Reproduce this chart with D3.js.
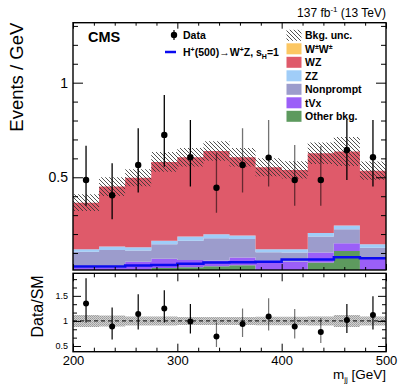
<!DOCTYPE html>
<html>
<head>
<meta charset="utf-8">
<script src="https://cdn.jsdelivr.net/npm/d3@7"></script>
<style>
  body { margin: 0; background: #fff; }
  svg { display: block; font-family: "Liberation Sans", Arial, Helvetica, sans-serif; }
</style>
</head>
<body>
<svg id="chart" width="407" height="387"></svg>
<script>
// bins (low edges, GeV) and the last upper edge
var binLow = [200, 225, 250, 275, 300, 325, 350, 375, 400, 425, 450, 475];
var binHigh = 500;

// background contributions, events / GeV (stacked bottom to top)
var otherBkg  = [0.004, 0.004, 0.006, 0.020, 0.025, 0.030, 0.035, 0.006, 0.006, 0.049, 0.110, 0.010];
var tVx       = [0.016, 0.018, 0.048, 0.050, 0.038, 0.030, 0.041, 0.054, 0.049, 0.053, 0.042, 0.062];
var nonprompt = [0.087, 0.094, 0.059, 0.076, 0.102, 0.118, 0.098, 0.044, 0.047, 0.085, 0.074, 0.056];
var zz        = [0.013, 0.018, 0.017, 0.019, 0.022, 0.021, 0.018, 0.016, 0.018, 0.019, 0.019, 0.018];
var wz        = [0.246, 0.317, 0.368, 0.416, 0.419, 0.440, 0.414, 0.433, 0.419, 0.421, 0.391, 0.389];
var wpwp      = [0, 0, 0, 0, 0, 0, 0, 0, 0, 0, 0, 0];
// relative background uncertainty
var bkgUnc    = [0.12, 0.11, 0.09, 0.09, 0.08, 0.08, 0.08, 0.085, 0.085, 0.09, 0.12, 0.09];

// signal H+(500)
var signal    = [0.028, 0.028, 0.034, 0.037, 0.043, 0.049, 0.051, 0.054, 0.066, 0.066, 0.077, 0.072];

// data
var dataVal   = [0.486, 0.405, 0.565, 0.724, 0.606, 0.445, 0.565, 0.604, 0.486, 0.486, 0.644, 0.606];
var dataUp    = [0.667, 0.574, 0.759, 0.935, 0.803, 0.627, 0.759, 0.803, 0.671, 0.666, 0.803, 0.803];
var dataDown  = [0.349, 0.278, 0.419, 0.556, 0.451, 0.313, 0.419, 0.451, 0.349, 0.349, 0.486, 0.451];

// data / SM
var ratioVal  = [1.35, 0.89, 1.14, 1.25, 0.99, 0.69, 0.94, 1.09, 0.89, 0.78, 1.02, 1.12];
var ratioUp   = [1.85, 1.27, 1.53, 1.61, 1.34, 0.97, 1.25, 1.45, 1.24, 1.06, 1.34, 1.49];
var ratioDown = [0.97, 0.63, 0.83, 0.97, 0.75, 0.48, 0.68, 0.81, 0.65, 0.56, 0.76, 0.83];

// ticks
var xMajor = [200, 300, 400, 500];
var yMajor = [0.5, 1];
var rMajor = [0.5, 1, 1.5];

var keys = ["other", "tvx", "nonprompt", "zz", "wz", "wpwp"];
var colors = {
  wpwp: "#fcc763", wz: "#df5a6a", zz: "#a0cdf8",
  nonprompt: "#9c9ccc", tvx: "#9b5ff8", other: "#5d9a5e"
};

var L = 73, R = 386, T = 22.7, B = 270, T2 = 273.3, B2 = 351.7;

var svg = d3.select("#chart");
var defs = svg.append("defs");

var hatch = defs.append("pattern").attr("id", "hatch")
  .attr("patternUnits", "userSpaceOnUse").attr("width", 4).attr("height", 4);
hatch.append("path").attr("d", "M-1,-1L5,5M-1,3L1,5M3,-1L5,1")
  .attr("stroke", "#333").attr("stroke-width", 0.85);

var dots = defs.append("pattern").attr("id", "dots")
  .attr("patternUnits", "userSpaceOnUse").attr("width", 2).attr("height", 2);
dots.append("rect").attr("width", 2).attr("height", 2).attr("fill", "#d2d2d2");
dots.append("rect").attr("width", 1).attr("height", 1).attr("fill", "#9a9a9a");
dots.append("rect").attr("x", 1).attr("y", 1).attr("width", 1).attr("height", 1).attr("fill", "#a8a8a8");

defs.append("clipPath").attr("id", "clipTop").append("rect")
  .attr("x", L).attr("y", T).attr("width", R - L).attr("height", B - T);
defs.append("clipPath").attr("id", "clipBot").append("rect")
  .attr("x", L).attr("y", T2).attr("width", R - L).attr("height", B2 - T2);

var x = d3.scaleLinear().domain([200, 500]).range([L, R]);
var y = d3.scaleLinear().domain([0.01, 1.317]).range([B, T]);
var yr = d3.scaleLinear().domain([0.386, 1.95]).range([B2, T2]);

var rows = binLow.map(function (b, i) {
  return { lo: b, other: otherBkg[i], tvx: tVx[i], nonprompt: nonprompt[i],
           zz: zz[i], wz: wz[i], wpwp: wpwp[i] };
});
var stacked = d3.stack().keys(keys)(rows);

function steps(arr) {
  var pts = arr.slice();
  pts.push(Object.assign({}, pts[pts.length - 1], { lo: binHigh }));
  return pts;
}

var area = d3.area().curve(d3.curveStepAfter)
  .x(function (d) { return x(d.lo); })
  .y0(function (d) { return y(d.a); })
  .y1(function (d) { return y(d.b); });

var upper = svg.append("g").attr("clip-path", "url(#clipTop)");

stacked.forEach(function (s) {
  var pts = steps(s.map(function (d) { return { lo: d.data.lo, a: d[0], b: d[1] }; }));
  upper.append("path").attr("d", area(pts)).attr("fill", colors[s.key]);
});

var totals = stacked[stacked.length - 1].map(function (d) { return d[1]; });
var uncPts = steps(binLow.map(function (b, i) {
  return { lo: b, a: totals[i] * (1 - bkgUnc[i]), b: totals[i] * (1 + bkgUnc[i]) };
}));
upper.append("path").attr("d", area(uncPts)).attr("fill", "url(#hatch)");

var line = d3.line().curve(d3.curveStepAfter)
  .x(function (d) { return x(d.lo); })
  .y(function (d) { return y(d.v); });
upper.append("path")
  .attr("d", line(steps(binLow.map(function (b, i) { return { lo: b, v: signal[i] }; }))))
  .attr("fill", "none").attr("stroke", "#0a0af0").attr("stroke-width", 2.5);

function faint(d, i) { return i >= 5 && i <= 9 ? 0.55 : 1; }
function center(i) { return x(binLow[i] + 12.5); }

upper.selectAll(".err").data(dataVal).enter().append("line")
  .attr("x1", function (d, i) { return center(i); })
  .attr("x2", function (d, i) { return center(i); })
  .attr("y1", function (d, i) { return y(dataUp[i]); })
  .attr("y2", function (d, i) { return y(dataDown[i]); })
  .attr("stroke", "#000").attr("stroke-width", 1.3).attr("stroke-opacity", faint);
upper.selectAll(".pt").data(dataVal).enter().append("circle")
  .attr("cx", function (d, i) { return center(i); })
  .attr("cy", function (d) { return y(d); })
  .attr("r", 3.2).attr("fill", "#000");

// ratio panel
var lower = svg.append("g").attr("clip-path", "url(#clipBot)");
var bandArea = d3.area().curve(d3.curveStepAfter)
  .x(function (d) { return x(d.lo); })
  .y0(function (d) { return yr(d.a); })
  .y1(function (d) { return yr(d.b); });
lower.append("path")
  .attr("d", bandArea(steps(binLow.map(function (b, i) {
    return { lo: b, a: 1 - bkgUnc[i], b: 1 + bkgUnc[i] };
  }))))
  .attr("fill", "url(#dots)");
lower.append("line").attr("x1", L).attr("x2", R).attr("y1", yr(1)).attr("y2", yr(1))
  .attr("stroke", "#000").attr("stroke-width", 1).attr("stroke-dasharray", "4,3");
lower.selectAll(".rerr").data(ratioVal).enter().append("line")
  .attr("x1", function (d, i) { return center(i); })
  .attr("x2", function (d, i) { return center(i); })
  .attr("y1", function (d, i) { return yr(ratioUp[i]); })
  .attr("y2", function (d, i) { return yr(ratioDown[i]); })
  .attr("stroke", "#000").attr("stroke-width", 1.2).attr("stroke-opacity", faint);
lower.selectAll(".rpt").data(ratioVal).enter().append("circle")
  .attr("cx", function (d, i) { return center(i); })
  .attr("cy", function (d) { return yr(d); })
  .attr("r", 3).attr("fill", "#000");

// axes / ticks
function ticks(axis, tx, ty, vals, size, fmt, pad, fs) {
  var g = svg.append("g").attr("transform", "translate(" + tx + "," + ty + ")")
    .call(axis.tickValues(vals).tickSize(size).tickPadding(pad || 3)
      .tickFormat(fmt || function () { return ""; }));
  g.select(".domain").remove();
  g.selectAll(".tick line").attr("stroke", "#000").attr("stroke-width", 1);
  g.selectAll(".tick text").attr("fill", "#000").attr("font-size", fs || 12)
    .attr("font-family", "Liberation Sans, Arial, sans-serif");
  return g;
}
var xMinor = d3.range(220, 500, 20).filter(function (v) { return xMajor.indexOf(v) < 0; });
var yMinor = d3.range(0.1, 1.31, 0.1).filter(function (v) { return Math.abs(v - 0.5) > 1e-6 && Math.abs(v - 1) > 1e-6; });
var rMinor = d3.range(0.5, 1.95, 0.5 / 3).filter(function (v) {
  return rMajor.every(function (m) { return Math.abs(v - m) > 1e-6; });
});
var fmt = d3.format("");

// upper panel
ticks(d3.axisLeft(y), L, 0, yMajor, -10, fmt, 5, 14);
ticks(d3.axisLeft(y), L, 0, yMinor, -5);
ticks(d3.axisRight(y), R, 0, yMajor, -10);
ticks(d3.axisRight(y), R, 0, yMinor, -5);
ticks(d3.axisBottom(x), 0, B, xMajor, -6);
ticks(d3.axisBottom(x), 0, B, xMinor, -3);
ticks(d3.axisTop(x), 0, T, xMajor, -6);
ticks(d3.axisTop(x), 0, T, xMinor, -3);

// ratio panel
ticks(d3.axisLeft(yr), L, 0, rMajor, -8, fmt, 5, 9);
ticks(d3.axisLeft(yr), L, 0, rMinor, -4);
ticks(d3.axisRight(yr), R, 0, rMajor, -8);
ticks(d3.axisRight(yr), R, 0, rMinor, -4);
ticks(d3.axisBottom(x), 0, B2, xMajor, -8, fmt, 4, 13);
ticks(d3.axisBottom(x), 0, B2, xMinor, -4);
ticks(d3.axisTop(x), 0, T2, xMajor, -8);
ticks(d3.axisTop(x), 0, T2, xMinor, -4);

// frames
svg.append("rect").attr("x", L).attr("y", T).attr("width", R - L).attr("height", B - T)
  .attr("fill", "none").attr("stroke", "#000").attr("stroke-width", 1.4);
svg.append("rect").attr("x", L).attr("y", T2).attr("width", R - L).attr("height", B2 - T2)
  .attr("fill", "none").attr("stroke", "#000").attr("stroke-width", 1.4);

// titles
svg.append("text").attr("transform", "translate(23," + T + ") rotate(-90)")
  .attr("text-anchor", "end").attr("font-size", 18.5).text("Events / GeV");
svg.append("text").attr("transform", "translate(43," + (T2 + 2) + ") rotate(-90)")
  .attr("text-anchor", "end").attr("font-size", 16).text("Data/SM");

var xt = svg.append("text").attr("x", R).attr("y", 379).attr("text-anchor", "end")
  .attr("font-size", 13.5);
xt.append("tspan").text("m");
xt.append("tspan").attr("font-size", 8).attr("dy", 3).text("jj");
xt.append("tspan").attr("dy", -3).text(" [GeV]");

svg.append("text").attr("x", 88).attr("y", 42).attr("font-size", 14.5)
  .attr("font-weight", "bold").text("CMS");

var lumi = svg.append("text").attr("x", R).attr("y", 16.5).attr("text-anchor", "end")
  .attr("font-size", 12);
lumi.append("tspan").text("137 fb");
lumi.append("tspan").attr("font-size", 8).attr("dy", -4.5).text("-1");
lumi.append("tspan").attr("dy", 4.5).text(" (13 TeV)");

// legend left
var leg = svg.append("g").attr("font-size", 10.5).attr("font-weight", "bold");
leg.append("line").attr("x1", 174).attr("x2", 174).attr("y1", 30).attr("y2", 40)
  .attr("stroke", "#000").attr("stroke-width", 1.2);
leg.append("circle").attr("cx", 174).attr("cy", 35).attr("r", 3.2).attr("fill", "#000");
leg.append("text").attr("x", 183).attr("y", 39).text("Data");
leg.append("line").attr("x1", 165).attr("x2", 176).attr("y1", 52).attr("y2", 52)
  .attr("stroke", "#0a0af0").attr("stroke-width", 2.5);
var sl = leg.append("text").attr("x", 183).attr("y", 55.5);
sl.append("tspan").text("H");
sl.append("tspan").attr("font-size", 7).attr("dy", -4).text("+");
sl.append("tspan").attr("dy", 4).text("(500)\u2192W");
sl.append("tspan").attr("font-size", 7).attr("dy", -4).text("+");
sl.append("tspan").attr("dy", 4).text("Z, s");
sl.append("tspan").attr("font-size", 7).attr("dy", 3).text("H");
sl.append("tspan").attr("dy", -3).text("=1");

// legend right
var legItems = [
  { fill: "url(#hatch)", label: "Bkg. unc." },
  { fill: colors.wpwp, label: "W\u00b1W\u00b1" },
  { fill: colors.wz, label: "WZ" },
  { fill: colors.zz, label: "ZZ" },
  { fill: colors.nonprompt, label: "Nonprompt" },
  { fill: colors.tvx, label: "tVx" },
  { fill: colors.other, label: "Other bkg." }
];
legItems.forEach(function (it, i) {
  var by = 39.3 + i * 13.5;
  leg.append("rect").attr("x", 286.5).attr("y", by - 9.5).attr("width", 15).attr("height", 11)
    .attr("fill", it.fill);
  var t = leg.append("text").attr("x", 305).attr("y", by);
  if (i === 1) {
    t.append("tspan").text("W");
    t.append("tspan").attr("font-size", 7).attr("dy", -4).text("\u00b1");
    t.append("tspan").attr("dy", 4).text("W");
    t.append("tspan").attr("font-size", 7).attr("dy", -4).text("\u00b1");
  } else {
    t.text(it.label);
  }
});
</script>
</body>
</html>
